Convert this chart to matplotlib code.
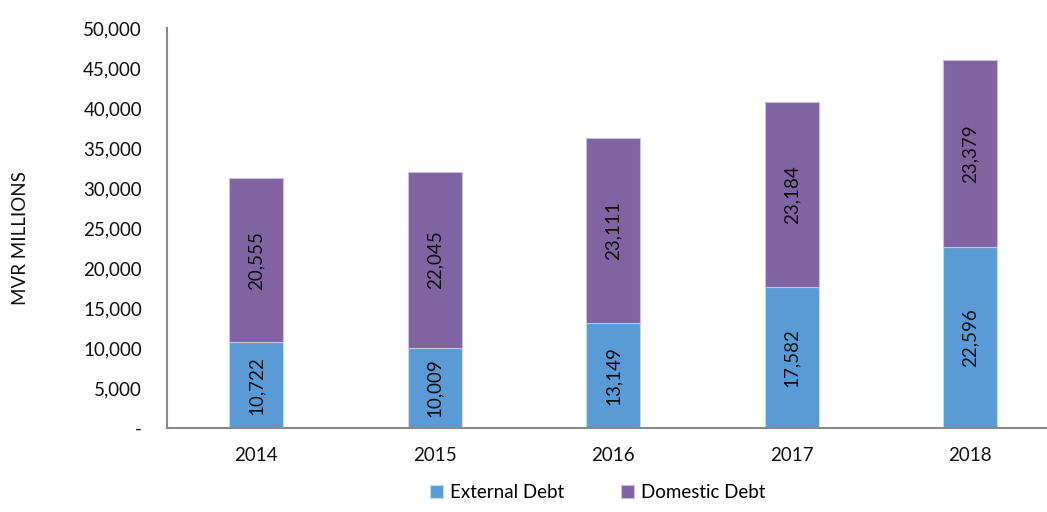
import matplotlib.pyplot as plt
from matplotlib.ticker import FuncFormatter

plt.rcParams['font.family'] = ['Lato', 'DejaVu Sans']

years = ["2014", "2015", "2016", "2017", "2018"]
external = [10722, 10009, 13149, 17582, 22596]
domestic = [20555, 22045, 23111, 23184, 23379]

blue = "#5B9BD5"
purple = "#8064A2"
fs = 13.5

fig = plt.figure(figsize=(10.47, 5.12), dpi=100)
ax = fig.add_axes([0.1595, 0.164, 0.8405, 0.781])

x = range(len(years))
b1 = ax.bar(x, external, width=0.30, color=blue, edgecolor="#C5DCF0", linewidth=0.8, label="External Debt")
b2 = ax.bar(x, domestic, width=0.30, bottom=external, color=purple, edgecolor="#CDBEDD", linewidth=0.8, label="Domestic Debt")

for i in x:
    ax.text(i, external[i] / 2, f"{external[i]:,}", rotation=90, ha="center", va="center", fontsize=fs, color="#111111")
    ax.text(i, external[i] + domestic[i] / 2, f"{domestic[i]:,}", rotation=90, ha="center", va="center", fontsize=fs, color="#111111")

ax.set_ylim(0, 50000)
ax.set_xlim(-0.5, 4.43)
ax.set_yticks(range(0, 50001, 5000))
ax.yaxis.set_major_formatter(FuncFormatter(lambda v, p: "-" if v == 0 else f"{int(v):,}"))
ax.set_xticks(list(x))
ax.set_xticklabels(years)
ax.tick_params(axis="both", length=0, labelsize=fs, colors="#111111")
ax.tick_params(axis="y", pad=18)
ax.tick_params(axis="x", pad=14)

for s in ["top", "right"]:
    ax.spines[s].set_visible(False)
for s in ["left", "bottom"]:
    ax.spines[s].set_color("#898989")
    ax.spines[s].set_linewidth(1.5)

fig.text(0.02, 0.535, "MVR MILLIONS", rotation=90, ha="center", va="center", fontsize=fs, color="#111111")

fig.legend(handles=[b1, b2], loc="lower center", bbox_to_anchor=(0.571, -0.012), ncol=2, frameon=False,
           fontsize=fs, handlelength=0.7, handleheight=0.7, columnspacing=3.0, handletextpad=0.4)

fig.savefig("out.png", dpi=100)
